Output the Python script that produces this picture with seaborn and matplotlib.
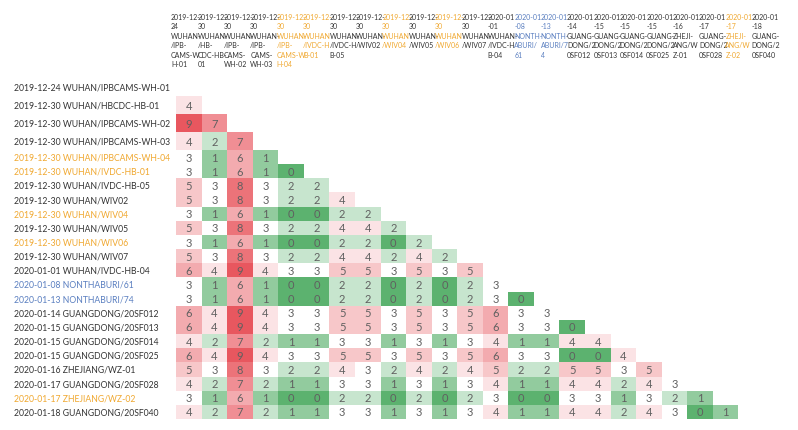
import numpy as np
import pandas as pd
import matplotlib
matplotlib.use("Agg")
import matplotlib.pyplot as plt
import matplotlib.transforms as mtransforms
import seaborn as sns
from matplotlib.colors import LinearSegmentedColormap

# sequence names (rows and columns share the same order)
row_labels = [
    "2019-12-24 WUHAN/IPBCAMS-WH-01",
    "2019-12-30 WUHAN/HBCDC-HB-01",
    "2019-12-30 WUHAN/IPBCAMS-WH-02",
    "2019-12-30 WUHAN/IPBCAMS-WH-03",
    "2019-12-30 WUHAN/IPBCAMS-WH-04",
    "2019-12-30 WUHAN/IVDC-HB-01",
    "2019-12-30 WUHAN/IVDC-HB-05",
    "2019-12-30 WUHAN/WIV02",
    "2019-12-30 WUHAN/WIV04",
    "2019-12-30 WUHAN/WIV05",
    "2019-12-30 WUHAN/WIV06",
    "2019-12-30 WUHAN/WIV07",
    "2020-01-01 WUHAN/IVDC-HB-04",
    "2020-01-08 NONTHABURI/61",
    "2020-01-13 NONTHABURI/74",
    "2020-01-14 GUANGDONG/20SF012",
    "2020-01-15 GUANGDONG/20SF013",
    "2020-01-15 GUANGDONG/20SF014",
    "2020-01-15 GUANGDONG/20SF025",
    "2020-01-16 ZHEJIANG/WZ-01",
    "2020-01-17 GUANGDONG/20SF028",
    "2020-01-17 ZHEJIANG/WZ-02",
    "2020-01-18 GUANGDONG/20SF040",
]

# wrapped column headers, as shown in the table head
col_labels = [
    "2019-12-\n24\nWUHAN-\n/IPB-\nCAMS-W\nH-01",
    "2019-12-\n30\nWUHAN-\n/HB-\nCDC-HB-\n01",
    "2019-12-\n30\nWUHAN-\n/IPB-\nCAMS-\nWH-02",
    "2019-12-\n30\nWUHAN-\n/IPB-\nCAMS-\nWH-03",
    "2019-12-\n30\nWUHAN-\n/IPB-\nCAMS-W\nH-04",
    "2019-12-\n30\nWUHAN\n/IVDC-H\nB-01",
    "2019-12-\n30\nWUHAN-\n/IVDC-H\nB-05",
    "2019-12-\n30\nWUHAN-\n/WIV02",
    "2019-12-\n30\nWUHAN\n/WIV04",
    "2019-12-\n30\nWUHAN-\n/WIV05",
    "2019-12-\n30\nWUHAN\n/WIV06",
    "2019-12-\n30\nWUHAN-\n/WIV07",
    "2020-01\n-01\nWUHAN-\n/IVDC-H\nB-04",
    "2020-01\n-08\nNONTH-\nABURI/\n61",
    "2020-01\n-13\nNONTH-\nABURI/7\n4",
    "2020-01\n-14\nGUANG-\nDONG/2\n0SF012",
    "2020-01\n-15\nGUANG-\nDONG/2\n0SF013",
    "2020-01\n-15\nGUANG-\nDONG/2\n0SF014",
    "2020-01\n-15\nGUANG-\nDONG/2\n0SF025",
    "2020-01\n-16\nZHEJI-\nANG/W\nZ-01",
    "2020-01\n-17\nGUANG-\nDONG/2\n0SF028",
    "2020-01\n-17\nZHEJI-\nANG/W\nZ-02",
    "2020-01\n-18\nGUANG-\nDONG/2\n0SF040",
]

# highlight group of each sequence: 0 = plain, 1 = orange, 2 = blue
label_group = [0, 0, 0, 0, 1, 1, 0, 0, 1, 0, 1, 0, 0, 2, 2, 0, 0, 0, 0, 0, 0, 1, 0]

# pairwise differences, lower triangle (row i vs columns 0..i-1)
diffs = [
    [],
    [4],
    [9, 7],
    [4, 2, 7],
    [3, 1, 6, 1],
    [3, 1, 6, 1, 0],
    [5, 3, 8, 3, 2, 2],
    [5, 3, 8, 3, 2, 2, 4],
    [3, 1, 6, 1, 0, 0, 2, 2],
    [5, 3, 8, 3, 2, 2, 4, 4, 2],
    [3, 1, 6, 1, 0, 0, 2, 2, 0, 2],
    [5, 3, 8, 3, 2, 2, 4, 4, 2, 4, 2],
    [6, 4, 9, 4, 3, 3, 5, 5, 3, 5, 3, 5],
    [3, 1, 6, 1, 0, 0, 2, 2, 0, 2, 0, 2, 3],
    [3, 1, 6, 1, 0, 0, 2, 2, 0, 2, 0, 2, 3, 0],
    [6, 4, 9, 4, 3, 3, 5, 5, 3, 5, 3, 5, 6, 3, 3],
    [6, 4, 9, 4, 3, 3, 5, 5, 3, 5, 3, 5, 6, 3, 3, 0],
    [4, 2, 7, 2, 1, 1, 3, 3, 1, 3, 1, 3, 4, 1, 1, 4, 4],
    [6, 4, 9, 4, 3, 3, 5, 5, 3, 5, 3, 5, 6, 3, 3, 0, 0, 4],
    [5, 3, 8, 3, 2, 2, 4, 3, 2, 4, 2, 4, 5, 2, 2, 5, 5, 3, 5],
    [4, 2, 7, 2, 1, 1, 3, 3, 1, 3, 1, 3, 4, 1, 1, 4, 4, 2, 4, 3],
    [3, 1, 6, 1, 0, 0, 2, 2, 0, 2, 0, 2, 3, 0, 0, 3, 3, 1, 3, 2, 1],
    [4, 2, 7, 2, 1, 1, 3, 3, 1, 3, 1, 3, 4, 1, 1, 4, 4, 2, 4, 3, 0, 1],
]

group_colors = ["#333333", "#f0a830", "#5a7fc0"]

n = len(row_labels)
mat = np.full((n, n), np.nan)
for i, r in enumerate(diffs):
    mat[i, :len(r)] = r
df = pd.DataFrame(mat, index=row_labels, columns=range(n))

cmap = LinearSegmentedColormap.from_list(
    "gr", [(0, "#5cb26f"), (3 / 9, "#ffffff"), (1, "#e8575f")])

sns.set_theme(style="white")
plt.rcParams["font.family"] = ["Lato", "DejaVu Sans"]

W, H = 798, 431
fig = plt.figure(figsize=(W / 100, H / 100), dpi=100)

x0, x1 = 176, 764
# the first few rows are drawn taller than the rest
blocks = [(0, 4, 79, 151), (4, n, 151, 420)]
for (r0, r1, ytop, ybot) in blocks:
    ax = fig.add_axes([x0 / W, 1 - ybot / H, (x1 - x0) / W, (ybot - ytop) / H])
    sub = df.iloc[r0:r1]
    sns.heatmap(sub, ax=ax, mask=sub.isna(), cmap=cmap, vmin=0, vmax=9,
                cbar=False, annot=True, fmt=".0f", linewidths=0,
                annot_kws={"color": "#606060", "fontsize": 8})
    ax.set_xticks([])
    ax.set_yticks([])
    ax.set_xlabel("")
    ax.set_ylabel("")
    for s in ax.spines.values():
        s.set_visible(False)
    # row labels, left aligned near the figure edge
    trans = mtransforms.blended_transform_factory(fig.transFigure, ax.transData)
    for k, lab in enumerate(sub.index):
        ax.text(14 / W, k + 0.5, lab, transform=trans,
                ha="left", va="center", fontsize=6.2,
                color=group_colors[label_group[r0 + k]])

# column header strip
for j, lab in enumerate(col_labels):
    fig.text((171 + j * 26.4) / W, 1 - 14 / H, lab, ha="left", va="top",
             fontsize=5.0, linespacing=1.4,
             color=group_colors[label_group[j]])

fig.savefig("out.png", dpi=100)
